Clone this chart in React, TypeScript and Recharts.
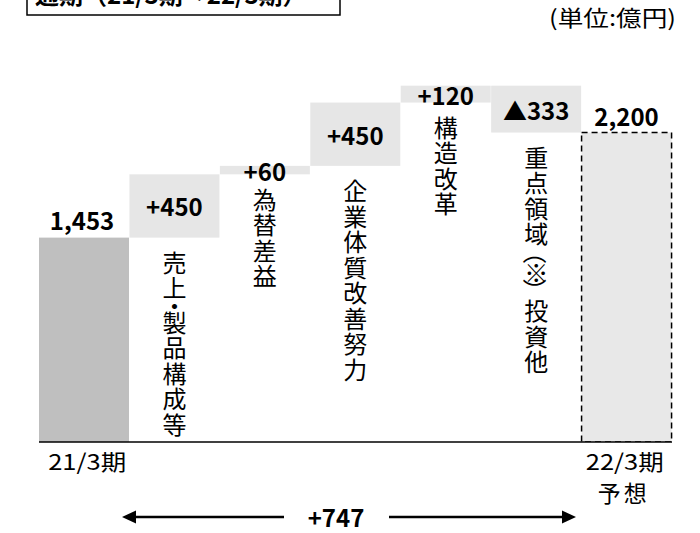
import React from "react";
import { BarChart, Bar, XAxis, YAxis } from "recharts";

const categories = ["21/3期", "売上・製品構成等", "為替差益", "企業体質改善努力", "構造改革", "重点領域（※）投資他", "22/3期"];
const subLabels = ["", "", "", "", "", "", "予想"];
const changes = [1453, 450, 60, 450, 120, -333, 2200];
const valueLabels = ["1,453", "+450", "+60", "+450", "+120", "▲333", "2,200"];
const totalChangeLabel = "+747";
const titleText = "通期（21/3期→22/3期）";
const unitText = "(単位:億円)";
const yDomain = [0, 3000];

const FONT = '"Noto Sans CJK JP", "Noto Sans", sans-serif';
const W = 700;
const H = 533;
const LAST = categories.length - 1;

let running = 0;
const rows = categories.map((name, i) => {
  const v = changes[i];
  let base = 0;
  let delta = 0;
  if (i === 0 || i === LAST) {
    base = 0;
    delta = v;
    running = v;
  } else if (v >= 0) {
    base = running;
    delta = v;
    running += v;
  } else {
    running += v;
    base = running;
    delta = -v;
  }
  return { name, base, delta, label: valueLabels[i], sub: subLabels[i] };
});

const SMALL: Record<string, number> = { "・": 9, "（": 13, "）": 13 };
const ROTATED: Record<string, boolean> = { "（": true, "）": true };
const PITCH = 25.5;
const VFONT = 24;

const BarShape = (props: any) => {
  const { x, y, width, height, index } = props;
  const cx = x + width / 2;
  const row = rows[index];
  if (index === 0) {
    return (
      <g>
        <rect x={x} y={y} width={width} height={height} fill="#bfbfbf" />
        <text x={cx - 2} y={y - 18} textAnchor="middle" dominantBaseline="central" fontFamily={FONT} fontWeight="bold" fontSize={24} fill="#000">
          {row.label}
        </text>
      </g>
    );
  }
  if (index === LAST) {
    return (
      <g>
        <rect x={x} y={y} width={width} height={height} fill="#e8e8e8" stroke="#000" strokeWidth={1.5} strokeDasharray="6 4" />
        <text x={cx} y={y - 17} textAnchor="middle" dominantBaseline="central" fontFamily={FONT} fontWeight="bold" fontSize={24} fill="#000">
          {row.label}
        </text>
      </g>
    );
  }
  const chars = Array.from(row.name);
  let t = y + height + 11;
  const items = chars.map((ch, k) => {
    const a = SMALL[ch] ?? PITCH;
    const c = t + a / 2;
    t += a;
    return (
      <text
        key={k}
        x={cx}
        y={c}
        textAnchor="middle"
        dominantBaseline="central"
        fontFamily={FONT}
        fontSize={VFONT}
        fill="#000"
        transform={ROTATED[ch] ? `rotate(90 ${cx} ${c})` : undefined}
      >
        {ch}
      </text>
    );
  });
  return (
    <g>
      <rect x={x} y={y} width={width} height={height} fill="#e6e6e6" />
      <text x={cx} y={y + height / 2} textAnchor="middle" dominantBaseline="central" fontFamily={FONT} fontWeight="bold" fontSize={24} fill="#000">
        {row.label}
      </text>
      {items}
    </g>
  );
};

const Tick = (props: any) => {
  const { x, y, index } = props;
  if (index !== 0 && index !== LAST) return null;
  const row = rows[index];
  return (
    <g>
      <text x={x + (index === 0 ? 3 : -2)} y={y + 28} textAnchor="middle" fontFamily={FONT} fontSize={22} fill="#000" textLength={78} lengthAdjust="spacingAndGlyphs">
        {row.name}
      </text>
      {row.sub ? (
        <text x={x - 3} y={y + 60} textAnchor="middle" fontFamily={FONT} fontSize={23} fill="#000" letterSpacing={3}>
          {row.sub}
        </text>
      ) : null}
    </g>
  );
};

const Overlay = () => (
  <svg width={W} height={H} style={{ position: "absolute", left: 0, top: 0, pointerEvents: "none" }}>
    <rect x={27} y={-10} width={313} height={25} fill="none" stroke="#000" strokeWidth={1.5} />
    <text x={35} y={4} fontFamily={FONT} fontWeight="bold" fontSize={24} fill="#000">
      {titleText}
    </text>
    <text x={549} y={26} fontFamily={FONT} fontSize={22} fill="#000" textLength={127} lengthAdjust="spacingAndGlyphs">
      {unitText}
    </text>
    <line x1={133} y1={517} x2={284} y2={517} stroke="#000" strokeWidth={2.5} />
    <polygon points="122,517 136,510.5 136,523.5" fill="#000" />
    <line x1={389} y1={517} x2={565} y2={517} stroke="#000" strokeWidth={2.5} />
    <polygon points="576,517 562,510.5 562,523.5" fill="#000" />
    <text x={336} y={527} textAnchor="middle" fontFamily={FONT} fontWeight="bold" fontSize={24} fill="#000">
      {totalChangeLabel}
    </text>
  </svg>
);

export default function App() {
  return (
    <div style={{ position: "absolute", left: 0, top: 0, width: W, height: H, background: "#fff" }}>
      <BarChart
        width={W}
        height={H}
        data={rows}
        margin={{ top: 20, right: 28, bottom: 31, left: 39 }}
        barCategoryGap={0}
        barGap={0}
      >
        <YAxis hide domain={yDomain} type="number" allowDataOverflow />
        <XAxis
          dataKey="name"
          height={60}
          tickLine={false}
          tickSize={0}
          tickMargin={0}
          axisLine={{ stroke: "#000", strokeWidth: 1.5 }}
          tick={<Tick />}
          interval={0}
        />
        <Bar dataKey="base" stackId="a" fill="transparent" isAnimationActive={false} />
        <Bar dataKey="delta" stackId="a" shape={<BarShape />} isAnimationActive={false} />
      </BarChart>
      <Overlay />
    </div>
  );
}
